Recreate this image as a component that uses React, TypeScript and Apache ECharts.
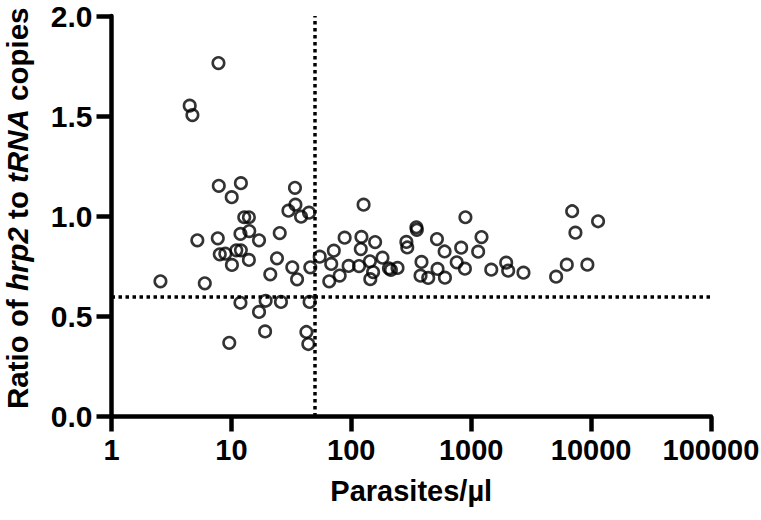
import React, { useEffect, useRef } from "react";
import * as echarts from "echarts";

// Parasite density (parasites/µl) for each sample
const parasites: number[] = [
  2.56, 4.49, 4.73, 5.2, 6.0, 7.8, 7.85, 7.7, 8.0, 8.9,
  9.6, 10.06, 10.1, 11.0, 12.0, 12.0, 11.9, 11.9, 12.8, 14.0,
  14.1, 14.0, 17.0, 17.0, 19.1, 19.3, 21.1, 24.0, 25.3, 25.9,
  29.9, 32.2, 33.9, 34.2, 35.3, 38.1, 42.2, 43.8, 44.4, 44.9,
  45.5, 54.5, 65.5, 68, 71.5, 80, 88, 95, 116, 120,
  121.5, 126.6, 143, 144, 152, 158, 182, 206, 214, 243,
  288, 293, 349, 352, 378, 385, 438, 518, 524, 600,
  604, 757, 825, 886, 895, 1143, 1219, 1470, 1958, 2034,
  2729, 5108, 6270, 6950, 7400, 9310, 11430,
];

// Ratio of hrp2 to tRNA copies for each sample
const ratios: number[] = [
  0.675, 1.552, 1.505, 0.88, 0.665, 1.765, 1.152, 0.89, 0.81, 0.813,
  0.368, 1.095, 0.757, 0.83, 0.83, 1.165, 0.912, 0.568, 0.995, 0.995,
  0.926, 0.782, 0.88, 0.522, 0.425, 0.578, 0.71, 0.79, 0.916, 0.572,
  1.028, 0.745, 1.142, 1.058, 0.685, 0.998, 0.422, 0.362, 1.018, 0.572,
  0.745, 0.798, 0.675, 0.762, 0.828, 0.704, 0.893, 0.752, 0.751, 0.836,
  0.897, 1.058, 0.775, 0.686, 0.721, 0.871, 0.793, 0.74, 0.732, 0.742,
  0.872, 0.844, 0.945, 0.932, 0.703, 0.772, 0.692, 0.886, 0.737, 0.824,
  0.693, 0.77, 0.843, 0.738, 0.995, 0.823, 0.896, 0.733, 0.768, 0.728,
  0.718, 0.698, 0.758, 1.025, 0.918, 0.758, 0.975,
];

// Threshold lines
const parasiteCutoff = 50;
const ratioCutoff = 0.6;

const yTicks = { min: 0, max: 2, interval: 0.5 };
const xRange = { min: 1, max: 100000 };

const FONT = "'Liberation Sans', Arial, Helvetica, sans-serif";

export default function App() {
  const ref = useRef<HTMLDivElement>(null);

  useEffect(() => {
    if (!ref.current) return;
    const chart = echarts.init(ref.current, null, { renderer: "svg" });
    const points = parasites.map((p, i) => [p, ratios[i]]);
    const dotted = {
      color: "#000",
      width: 3.5,
      type: [3.5, 3.5] as any,
    };
    chart.setOption({
      animation: false,
      backgroundColor: "#fff",
      textStyle: { fontFamily: FONT },
      grid: {
        left: 111.5,
        right: 50,
        top: 16,
        bottom: 103.5,
        containLabel: false,
        outerBoundsMode: "none",
      },
      xAxis: {
        type: "log",
        logBase: 10,
        min: xRange.min,
        max: xRange.max,
        name: "Parasites/µl",
        nameLocation: "middle",
        nameGap: 60,
        nameTextStyle: {
          fontFamily: FONT,
          fontWeight: "bold",
          fontSize: 29,
          color: "#000",
        },
        axisLine: { lineStyle: { color: "#000", width: 4.5 }, onZero: false },
        axisTick: { length: 15, lineStyle: { color: "#000", width: 4.5 } },
        minorTick: { show: false },
        splitLine: { show: false },
        axisLabel: {
          fontFamily: FONT,
          fontWeight: "bold",
          fontSize: 29,
          color: "#000",
          margin: 19,
          formatter: (v: number) => String(Math.round(v)),
        },
      },
      yAxis: {
        type: "value",
        min: yTicks.min,
        max: yTicks.max,
        interval: yTicks.interval,
        name: "{n|Ratio of }{i|hrp2}{n| to }{i|tRNA}{n| copies}",
        nameLocation: "middle",
        nameRotate: 90,
        nameGap: 79,
        nameTextStyle: {
          padding: [0, 0, 0, 16],
          rich: {
            n: { fontFamily: FONT, fontWeight: "bold", fontSize: 29.5, color: "#000" },
            i: {
              fontFamily: FONT,
              fontWeight: "bold",
              fontStyle: "italic",
              fontSize: 29.5,
              color: "#000",
            },
          },
        },
        axisLine: { show: true, lineStyle: { color: "#000", width: 4.5 } },
        axisTick: { show: true, length: 15, lineStyle: { color: "#000", width: 4.5 } },
        splitLine: { show: false },
        axisLabel: {
          fontFamily: FONT,
          fontWeight: "bold",
          fontSize: 30,
          color: "#000",
          margin: 19,
          formatter: (v: number) => v.toFixed(1),
        },
      },
      series: [
        {
          type: "scatter",
          data: points,
          symbol: "circle",
          symbolSize: 11.5,
          itemStyle: {
            color: "rgba(0,0,0,0)",
            borderColor: "#000",
            borderWidth: 2.6,
          },
          emphasis: { disabled: true },
          markLine: {
            silent: true,
            symbol: ["none", "none"],
            label: { show: false },
            lineStyle: dotted,
            emphasis: { disabled: true },
            data: [
              [
                { coord: [parasiteCutoff, yTicks.min] },
                { coord: [parasiteCutoff, yTicks.max] },
              ],
              [
                { coord: [xRange.min, ratioCutoff] },
                { coord: [xRange.max, ratioCutoff] },
              ],
            ],
          },
        },
      ],
    });
    return () => chart.dispose();
  }, []);

  return (
    <div
      ref={ref}
      style={{ position: "fixed", left: 0, top: 0, width: 761, height: 520, background: "#fff" }}
    />
  );
}
